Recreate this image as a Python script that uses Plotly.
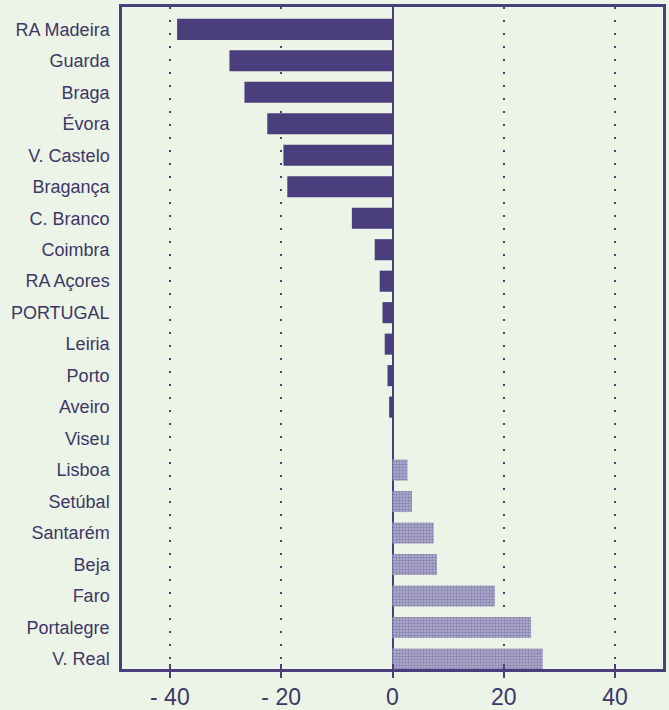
import plotly.graph_objects as go

categories = ["RA Madeira", "Guarda", "Braga", "Évora", "V. Castelo", "Bragança",
              "C. Branco", "Coimbra", "RA Açores", "PORTUGAL", "Leiria", "Porto",
              "Aveiro", "Viseu", "Lisboa", "Setúbal", "Santarém", "Beja", "Faro",
              "Portalegre", "V. Real"]
values = [-38.7, -29.3, -26.6, -22.5, -19.6, -18.9, -7.3, -3.2, -2.3, -1.8, -1.4,
          -0.9, -0.6, 0.0, 2.7, 3.5, 7.4, 8.0, 18.4, 24.9, 27.0]
tick_vals = [-40, -20, 0, 20, 40]
tick_text = ["- 40", "- 20", "0", "20", "40"]

navy = "#4a3e7d"
bg = "#ebf4e6"
txt = "#3e3668"

neg_cat = [c for c, v in zip(categories, values) if v < 0]
neg_val = [v for v in values if v < 0]
pos_cat = [c for c, v in zip(categories, values) if v >= 0]
pos_val = [v for v in values if v >= 0]

fig = go.Figure()
fig.add_trace(go.Bar(y=neg_cat, x=neg_val, orientation="h", width=0.67,
                     marker=dict(color=navy, line=dict(width=0))))
fig.add_trace(go.Bar(y=pos_cat, x=pos_val, orientation="h", width=0.67,
                     marker=dict(color="#b3b0cf", line=dict(width=0),
                                 pattern=dict(shape=".", fgcolor="#5e5690", bgcolor="#b3b0cf",
                                              size=3, solidity=0.5))))
# invisible helper trace for the inner tick axis
fig.add_trace(go.Scatter(x=[tick_vals[0]], y=[categories[0]], xaxis="x2", yaxis="y",
                         mode="markers", marker=dict(opacity=0), hoverinfo="skip"))

fig.update_layout(
    width=669, height=710,
    paper_bgcolor=bg, plot_bgcolor=bg,
    margin=dict(l=122, r=6, t=7, b=41),
    showlegend=False,
    barmode="overlay",
    font=dict(family="Liberation Sans, Arial", color=txt),
    xaxis2=dict(overlaying="x", anchor="y", side="bottom", matches="x", range=[-48.6, 48.6],
                tickvals=tick_vals, showticklabels=False, ticks="inside", ticklen=5,
                tickwidth=2, tickcolor=navy, showgrid=False, zeroline=False,
                showline=False, automargin=False),
)
fig.layout.xaxis.update(range=[-48.6, 48.6], tickvals=tick_vals, ticktext=tick_text,
                        tickfont=dict(size=23, color=txt), showline=True, linecolor=navy,
                        linewidth=2.5, mirror=True, ticks="outside", ticklen=6, tickwidth=2,
                        tickcolor=navy, showgrid=True, gridcolor=navy, gridwidth=1.5,
                        griddash="2px,11px", zeroline=True, zerolinecolor=navy,
                        zerolinewidth=1.5, automargin=False)
fig.update_yaxes(categoryorder="array", categoryarray=categories,
                 range=[20.32, -0.71], tickfont=dict(size=18, color=txt),
                 showline=True, linecolor=navy, linewidth=2.5, mirror=True,
                 showgrid=False, ticks="", ticklabelstandoff=6, automargin=False)

fig.write_html("out.html", config={"displayModeBar": False},
               post_script="document.body.style.margin='0';document.body.style.background='%s';" % bg)
